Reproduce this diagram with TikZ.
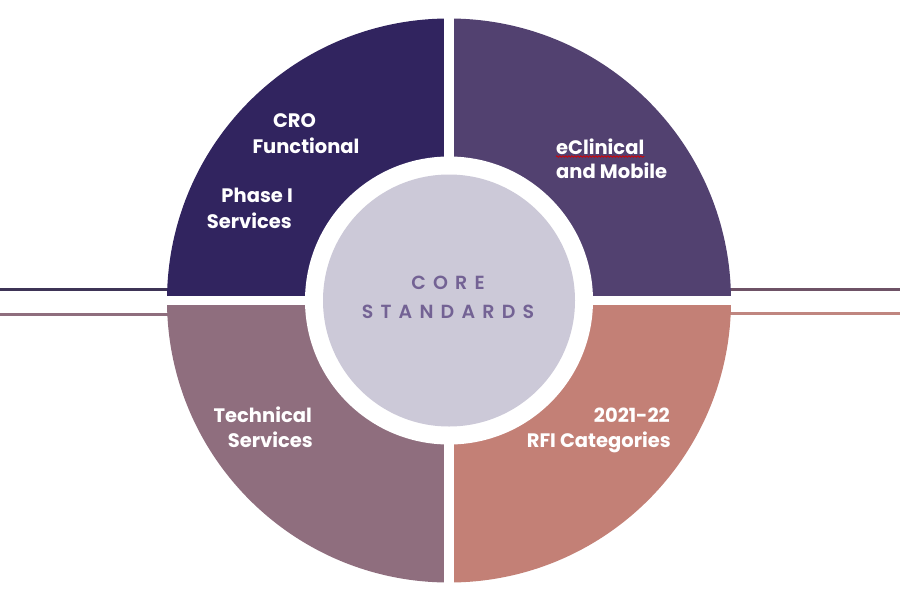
\documentclass[tikz,border=0pt]{standalone}
\usepackage{fontspec}
\setmainfont{Poppins}
\newfontfamily\coremed{Poppins}[UprightFont=*-SemiBold]
\usetikzlibrary{decorations.pathmorphing}
\definecolor{qTL}{RGB}{49,36,95}
\definecolor{qTR}{RGB}{82,65,112}
\definecolor{qBL}{RGB}{143,110,126}
\definecolor{qBR}{RGB}{195,128,118}
\definecolor{core}{RGB}{204,201,216}
\definecolor{coretext}{RGB}{115,98,148}
\definecolor{lineTL}{RGB}{62,52,86}
\definecolor{lineTR}{RGB}{110,82,102}
\definecolor{lineBL}{RGB}{143,110,126}
\definecolor{lineBR}{RGB}{192,134,128}
\begin{document}
\begin{tikzpicture}[x=1pt,y=-1pt,
  lbl/.style={text=white,font=\fontsize{19.5}{26}\selectfont\bfseries,inner sep=0pt},
  coretxt/.style={text=coretext,font=\coremed\fontsize{19}{22}\selectfont\addfontfeature{LetterSpace=38},inner sep=0pt},
  sideline/.style={line width=3pt}]
\useasboundingbox (0,0) rectangle (900,600);
\fill[white] (0,0) rectangle (900,600);
% side lines
\draw[sideline,lineTL] (0,289.5) -- (300,289.5);
\draw[sideline,lineBL] (0,314.5) -- (300,314.5);
\draw[sideline,lineTR] (600,289) -- (900,289);
\draw[sideline,lineBR] (600,313.5) -- (900,313.5);
% quadrants
\begin{scope}
  \clip (449,300.5) circle (282pt);
  \fill[qTL] (0,0) rectangle (443.5,296);
  \fill[qTR] (454,0) rectangle (900,296);
  \fill[qBL] (0,305) rectangle (443.5,600);
  \fill[qBR] (454,305) rectangle (900,600);
\end{scope}
\fill[white] (449,300.5) circle (144pt);
\node[circle,fill=core,minimum size=252pt,inner sep=0pt] (core) at (449,300.5) {};
% center text
\node[coretxt,anchor=base] (coreA) at (448,289.5) {CORE};
\node[coretxt,anchor=base] (coreB) at (448,318.5) {STANDARDS};
% labels
\node[lbl,anchor=base] (cro) at (294.5,127) {CRO};
\node[lbl,anchor=base] (func) at (306,153) {Functional};
\node[lbl,anchor=base east] (phase) at (293,202) {Phase I};
\node[lbl,anchor=base east] (serv1) at (292,228) {Services};
\node[lbl,anchor=base west] (eclin) at (556,154) {eClinical};
\node[lbl,anchor=base west] (mobile) at (556,178) {and Mobile};
\node[lbl,anchor=base east] (tech) at (312,422) {Technical};
\node[lbl,anchor=base east] (serv2) at (313,447) {Services};
\node[lbl,anchor=base east] (year) at (670,422) {2021-22};
\node[lbl,anchor=base east] (rfi) at (671,447) {RFI Categories};
% spell-check underline
\draw[red!85!black,line width=0.7pt,decorate,decoration={snake,amplitude=0.8pt,segment length=3pt}]
  ([yshift=-2.5pt]eclin.base west) -- ([yshift=-2.5pt]eclin.base east);
\end{tikzpicture}
\end{document}
